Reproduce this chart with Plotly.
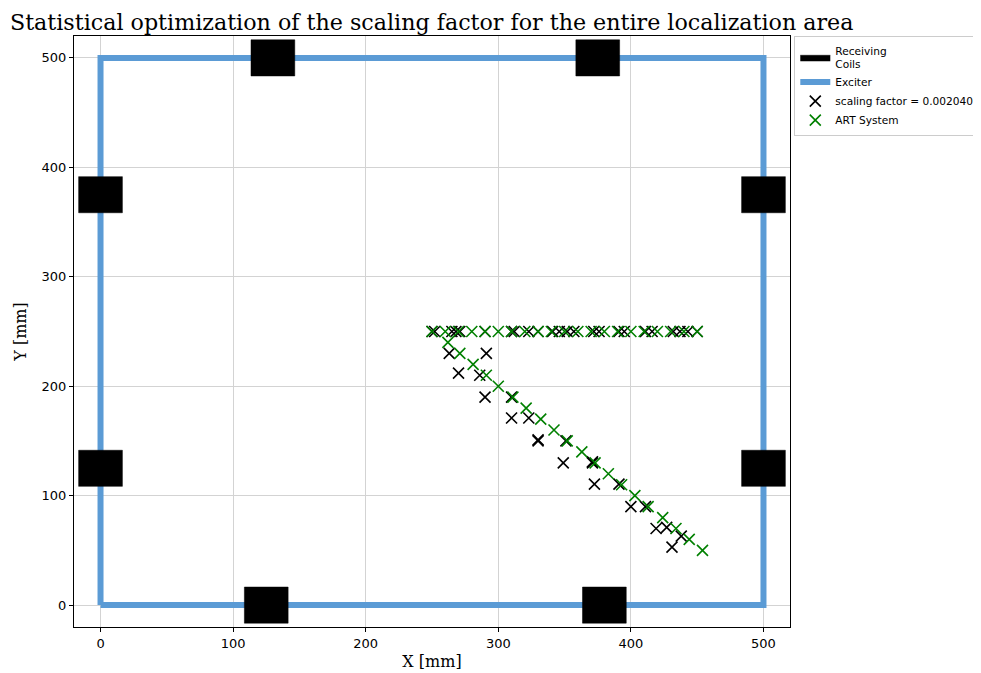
import plotly.graph_objects as go

# ---------------- data ----------------
coil_cx = [130, 375, 125, 380, 0, 0, 500, 500]
coil_cy = [500, 500, 0, 0, 375, 125, 375, 125]
coil_half = 16.5

exciter_x = [0, 500, 500, 0, 0]
exciter_y = [0, 0, 500, 500, 0]

# estimated positions (scaling factor = 0.002040)
est_x = [250, 252, 265, 268, 271, 290, 310, 312, 323, 330, 341, 346, 352, 357,
         372, 376, 391, 395, 411, 416, 432, 437, 443, 450,
         263, 291, 270, 286, 290, 310, 310, 323, 330, 330, 351, 349, 371, 371,
         372.5, 391, 400, 411, 419, 427, 438, 431]
est_y = [250, 250, 250, 250, 250, 250, 250, 250, 250, 250, 250, 250, 250, 250,
         250, 250, 250, 250, 250, 250, 250, 250, 250, 250,
         230, 230, 212, 210, 190, 190, 171, 171, 151, 150, 150, 130, 130, 131,
         110.5, 110.5, 90, 90, 70, 71, 63, 53]

# ART system reference positions
art_x = [250, 260, 270, 280, 290, 300, 310, 320, 330, 340, 350, 360, 370, 380,
         390, 400, 410, 420, 430, 440, 450,
         262, 271, 281, 291, 300, 311, 321, 332, 342, 352, 363, 373, 383, 393,
         403, 413, 424, 434, 444, 454]
art_y = [250, 250, 250, 250, 250, 250, 250, 250, 250, 250, 250, 250, 250, 250,
         250, 250, 250, 250, 250, 250, 250,
         240, 230, 220, 210, 200, 190, 180, 170, 160, 150, 140, 130, 120, 110,
         100, 90, 80, 70, 60, 50]

x_ticks = [0, 100, 200, 300, 400, 500]
y_ticks = [0, 100, 200, 300, 400, 500]

title_text = "Statistical optimization of the scaling factor for the entire localization area"

# ---------------- build coil polygons ----------------
px, py = [], []
for cx, cy in zip(coil_cx, coil_cy):
    px += [cx - coil_half, cx + coil_half, cx + coil_half, cx - coil_half, cx - coil_half, None]
    py += [cy - coil_half, cy - coil_half, cy + coil_half, cy + coil_half, cy - coil_half, None]

fig = go.Figure()

fig.add_trace(go.Scatter(
    x=exciter_x, y=exciter_y, mode="lines", name="Exciter",
    line=dict(color="#5B9BD5", width=6), legendrank=2))

fig.add_trace(go.Scatter(
    x=px, y=py, mode="lines", fill="toself", fillcolor="black",
    line=dict(color="black", width=0.5), name="Receiving<br>Coils", legendrank=1))

fig.add_trace(go.Scatter(
    x=est_x, y=est_y, mode="markers", name="scaling factor = 0.002040",
    marker=dict(symbol="x-thin", size=11, line=dict(color="black", width=1.6)),
    legendrank=3))

fig.add_trace(go.Scatter(
    x=art_x, y=art_y, mode="markers", name="ART System",
    marker=dict(symbol="x-thin", size=11, line=dict(color="green", width=1.6)),
    legendrank=4))

axis_common = dict(
    showgrid=True, gridcolor="#d3d3d3", gridwidth=1, automargin=False,
    zeroline=False, showline=True, linecolor="black", linewidth=1, mirror=True,
    ticks="outside", ticklen=4, tickcolor="black",
    tickfont=dict(family="DejaVu Sans", size=13, color="black"),
)

# figure is placed at (8, 8) in the page (default body margin)
fig.update_layout(
    width=973, height=665,
    margin=dict(l=66, r=191, t=28, b=46, autoexpand=False),
    paper_bgcolor="white", plot_bgcolor="white",
    title=dict(text=title_text, x=2 / 973, xanchor="left", xref="container",
               y=1 - 14 / 665, yanchor="middle", yref="container",
               font=dict(family="DejaVu Serif", size=22.2, color="black")),
    xaxis=dict(range=[-20, 520], tickvals=x_ticks, title=dict(text="X [mm]", standoff=6,
               font=dict(family="DejaVu Serif", size=16, color="black")), **axis_common),
    yaxis=dict(range=[-20, 520], tickvals=y_ticks, title=dict(text="Y [mm]", standoff=10,
               font=dict(family="DejaVu Serif", size=16, color="black")), **axis_common),
    legend=dict(x=1.006, y=1.0, xanchor="left", yanchor="top",
                bordercolor="#cccccc", borderwidth=1, bgcolor="white",
                font=dict(family="DejaVu Sans", size=10.6, color="black"),
                tracegroupgap=0, itemwidth=30),
    showlegend=True,
)

fig.write_html("out.html")
